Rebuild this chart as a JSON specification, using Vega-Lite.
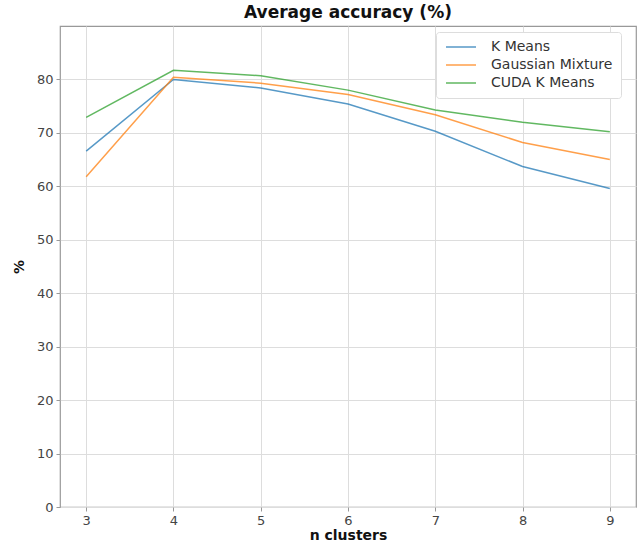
{
  "$schema": "https://vega.github.io/schema/vega-lite/v6.json",
  "width": 576,
  "height": 481,
  "autosize": {"type": "none"},
  "padding": {"left": 60, "top": 26, "right": 4, "bottom": 36},
  "background": "white",
  "title": {"text": "Average accuracy (%)", "font": "DejaVu Sans", "fontSize": 17, "fontWeight": "bold", "color": "#111", "offset": 4},
  "config": {
    "view": {"stroke": "#999", "strokeWidth": 1.2},
    "axis": {"labelFont": "DejaVu Sans", "labelFontSize": 13, "labelColor": "#444", "titleFont": "DejaVu Sans", "titleFontSize": 14, "titleFontWeight": "bold", "titleColor": "#111", "gridColor": "#ddd", "gridWidth": 1, "domain": false, "tickColor": "#999", "tickSize": 4}
  },
  "data": {"values": [
    {"n": 3, "method": "K Means", "acc": 66.6},
    {"n": 4, "method": "K Means", "acc": 80.0},
    {"n": 5, "method": "K Means", "acc": 78.4},
    {"n": 6, "method": "K Means", "acc": 75.4},
    {"n": 7, "method": "K Means", "acc": 70.3},
    {"n": 8, "method": "K Means", "acc": 63.7},
    {"n": 9, "method": "K Means", "acc": 59.6},
    {"n": 3, "method": "Gaussian Mixture", "acc": 61.8},
    {"n": 4, "method": "Gaussian Mixture", "acc": 80.4},
    {"n": 5, "method": "Gaussian Mixture", "acc": 79.3},
    {"n": 6, "method": "Gaussian Mixture", "acc": 77.2},
    {"n": 7, "method": "Gaussian Mixture", "acc": 73.4},
    {"n": 8, "method": "Gaussian Mixture", "acc": 68.2},
    {"n": 9, "method": "Gaussian Mixture", "acc": 65.0},
    {"n": 3, "method": "CUDA K Means", "acc": 72.9},
    {"n": 4, "method": "CUDA K Means", "acc": 81.7},
    {"n": 5, "method": "CUDA K Means", "acc": 80.7},
    {"n": 6, "method": "CUDA K Means", "acc": 78.0},
    {"n": 7, "method": "CUDA K Means", "acc": 74.3},
    {"n": 8, "method": "CUDA K Means", "acc": 72.0},
    {"n": 9, "method": "CUDA K Means", "acc": 70.2}
  ]},
  "mark": {"type": "line", "strokeWidth": 1.5, "opacity": 0.75},
  "encoding": {
    "x": {"field": "n", "type": "quantitative", "scale": {"domain": [2.7, 9.3], "nice": false, "zero": false},
          "axis": {"values": [3, 4, 5, 6, 7, 8, 9], "title": "n clusters", "titlePadding": 1, "labelPadding": 3}},
    "y": {"field": "acc", "type": "quantitative", "scale": {"domain": [0, 90], "nice": false},
          "axis": {"values": [0, 10, 20, 30, 40, 50, 60, 70, 80], "title": "%", "titlePadding": 10, "labelPadding": 3}},
    "color": {"field": "method", "type": "nominal",
      "scale": {"domain": ["K Means", "Gaussian Mixture", "CUDA K Means"], "range": ["#1f77b4", "#ff7f0e", "#2ca02c"]},
      "legend": {"title": null, "orient": "none", "legendX": 376, "legendY": 6, "symbolType": "M-1,0L5,0", "symbolSize": 100, "symbolStrokeWidth": 1.5, "symbolOpacity": 0.75, "labelFont": "DejaVu Sans", "labelFontSize": 14, "labelColor": "#333", "rowPadding": 4, "padding": 8, "strokeColor": "#ddd", "cornerRadius": 3, "fillColor": "white", "labelOffset": 33}
    }
  }
}
